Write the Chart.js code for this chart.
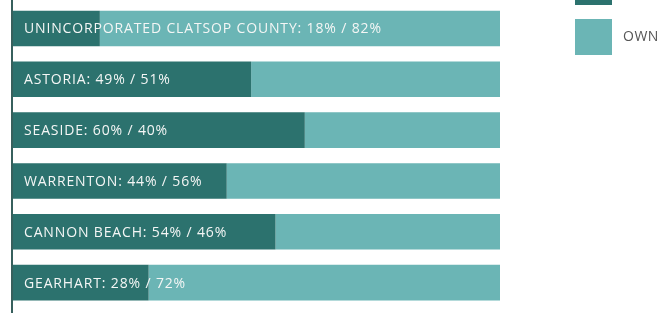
<!DOCTYPE html>
<html>
<head>
<meta charset="utf-8">
<script src="https://cdn.jsdelivr.net/npm/chart.js@4"></script>
<style>
  body { margin: 0; background: #fff; }
  canvas { display: block; }
</style>
</head>
<body>
<canvas id="chart" width="668" height="313"></canvas>
<script>
const places = ['UNINCORPORATED CLATSOP COUNTY', 'ASTORIA', 'SEASIDE', 'WARRENTON', 'CANNON BEACH', 'GEARHART'];
const rentShare = [18, 49, 60, 44, 54, 28];
const ownShare = [82, 51, 40, 56, 46, 72];
const seriesNames = ['RENT', 'OWN'];

const darkTeal = '#2c726e';
const lightTeal = '#6bb5b5';

// labels inside the bars + axis line + legend on the right
const overlay = {
    id: 'overlay',
    afterDraw(chart) {
        const { ctx, chartArea, scales } = chart;
        const y = scales.y;
        ctx.save();

        ctx.strokeStyle = '#37605d';
        ctx.lineWidth = 2;
        ctx.beginPath();
        ctx.moveTo(chartArea.left, 0);
        ctx.lineTo(chartArea.left, chart.height);
        ctx.stroke();

        ctx.font = '500 14px "Open Sans"';
        ctx.letterSpacing = '0.85px';
        ctx.fillStyle = '#f4f6f5';
        ctx.textBaseline = 'middle';
        places.forEach((name, i) => {
            const text = name + ': ' + rentShare[i] + '% / ' + ownShare[i] + '%';
            ctx.fillText(text, chartArea.left + 12, y.getPixelForValue(i) + 1);
        });

        ctx.letterSpacing = '0.5px';
        ctx.font = '14px "Open Sans"';
        chart.data.datasets.forEach((ds, i) => {
            const top = -31 + i * 50;
            ctx.fillStyle = ds.backgroundColor;
            ctx.fillRect(575, top, 37, 36);
            ctx.fillStyle = '#555';
            ctx.fillText(ds.label, 623, top + 18);
        });
        ctx.restore();
    }
};

new Chart(document.getElementById('chart'), {
    type: 'bar',
    data: {
        labels: places,
        datasets: [
            { label: seriesNames[0], data: rentShare, backgroundColor: darkTeal },
            { label: seriesNames[1], data: ownShare, backgroundColor: lightTeal },
        ],
    },
    options: {
        indexAxis: 'y',
        responsive: false,
        animation: false,
        layout: { padding: { left: 12, right: 168, top: 3, bottom: 5 } },
        datasets: {
            bar: { barPercentage: 0.7, categoryPercentage: 1.0, borderWidth: 0 },
        },
        scales: {
            x: { stacked: true, min: 0, max: 100, display: false },
            y: { stacked: true, display: false },
        },
        plugins: {
            legend: { display: false },
            tooltip: { enabled: false },
        },
    },
    plugins: [overlay],
});
</script>
</body>
</html>
